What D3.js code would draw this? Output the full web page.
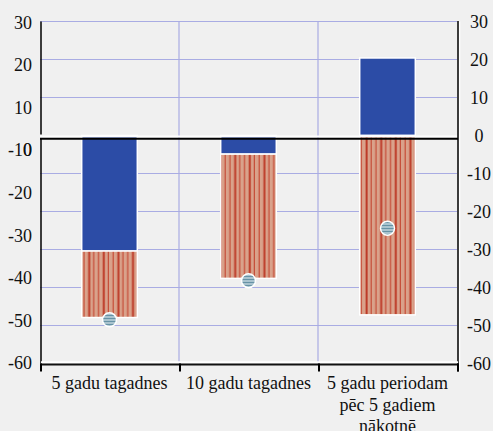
<!DOCTYPE html>
<html>
<head>
<meta charset="utf-8">
<script src="https://cdn.jsdelivr.net/npm/d3@7/dist/d3.min.js"></script>
<style>
  html, body { margin: 0; padding: 0; background: #f0f0f0; }
  svg { display: block; }
  text { font-family: "Liberation Serif", "Times New Roman", serif; fill: #111; }
</style>
</head>
<body>
<svg id="chart" width="493" height="431"></svg>
<script>
// ---- data ----
const categories = ["5 gadu tagadnes", "10 gadu tagadnes", "5 gadu periodam\npēc 5 gadiem\nnākotnē"];
const blueValues = [-30.4, -4.9, 20.4];
const redValues = [-17.5, -32.7, -47.2];
const markerValues = [-48.5, -38.2, -24.4];
const rightTicks = [30, 20, 10, 0, -10, -20, -30, -40, -50, -60];
const leftTicks = [30, 20, 10, 0, -10, -20, -30, -40, -50, -60];
const gridTicks = [30, 20, 10, -10, -20, -30, -40, -50];

const W = 493, H = 431;
const svg = d3.select("#chart");
const defs = svg.append("defs");

// hatch pattern for red series
const pr = defs.append("pattern").attr("id", "redHatch")
  .attr("patternUnits", "userSpaceOnUse").attr("width", 14.6).attr("height", 10);
pr.append("rect").attr("width", 14.6).attr("height", 10).attr("fill", "#d9a28b");
pr.append("rect").attr("x", 0.6).attr("width", 2).attr("height", 10).attr("fill", "#bd3a27");
pr.append("rect").attr("x", 5.6).attr("width", 1.1).attr("height", 10).attr("fill", "#c4432e");
pr.append("rect").attr("x", 10.4).attr("width", 1.1).attr("height", 10).attr("fill", "#c4432e");

// marker pattern
const pm = defs.append("pattern").attr("id", "markerHatch")
  .attr("patternUnits", "userSpaceOnUse").attr("width", 10).attr("height", 3);
pm.append("rect").attr("width", 10).attr("height", 3).attr("fill", "#a9c3ce");
pm.append("rect").attr("y", 0).attr("width", 10).attr("height", 0.9).attr("fill", "#5f8ea2");

// ---- scales ----
const x = d3.scaleBand().domain(categories).range([40, 457]).padding(0);
const y = d3.scaleLinear().domain([30, -60]).range([21.5, 363.5]);
const yLeft = d3.scaleLinear().domain([30, 0, -10, -60]).range([22.5, 150, 150, 363]);
const barW = x.bandwidth() * 0.4;

const gridColor = "#a9ace3";

// gridlines
svg.append("g").selectAll("line").data(gridTicks).join("line")
  .attr("x1", x.range()[0]).attr("x2", x.range()[1])
  .attr("y1", d => y(d)).attr("y2", d => y(d))
  .attr("stroke", gridColor).attr("stroke-width", 1.2);
svg.append("g").selectAll("line").data(categories.slice(1)).join("line")
  .attr("x1", d => x(d)).attr("x2", d => x(d))
  .attr("y1", y(30)).attr("y2", y(-60))
  .attr("stroke", gridColor).attr("stroke-width", 1.2);

// stacked bars
const table = categories.map((c, i) => ({ cat: c, blue: blueValues[i], red: redValues[i] }));
const stack = d3.stack().keys(["blue", "red"]).offset(d3.stackOffsetDiverging);
const series = stack(table);
const fills = { blue: "#2c4ca6", red: "url(#redHatch)" };

svg.append("g").selectAll("g").data(series).join("g")
  .attr("fill", d => fills[d.key])
  .selectAll("rect").data(d => d).join("rect")
  .attr("x", d => x(d.data.cat) + (x.bandwidth() - barW) / 2)
  .attr("width", barW)
  .attr("y", d => Math.min(y(d[0]), y(d[1])))
  .attr("height", d => Math.abs(y(d[0]) - y(d[1])))
  .attr("stroke", "#ffffff").attr("stroke-width", 1.5);

// zero line (white + black)
svg.append("line").attr("x1", x.range()[0]).attr("x2", x.range()[1] + 1)
  .attr("y1", y(0) + 1).attr("y2", y(0) + 1)
  .attr("stroke", "#ffffff").attr("stroke-width", 2.2);
svg.append("line").attr("x1", x.range()[0]).attr("x2", x.range()[1] + 1)
  .attr("y1", y(0) + 3.2).attr("y2", y(0) + 3.2)
  .attr("stroke", "#000").attr("stroke-width", 2);

// left axis line (broken around zero line)
svg.append("line").attr("x1", 41).attr("x2", 41)
  .attr("y1", y(30)).attr("y2", y(0) - 1)
  .attr("stroke", "#000").attr("stroke-width", 1.5);
svg.append("line").attr("x1", 41).attr("x2", 41)
  .attr("y1", y(0) + 3).attr("y2", y(-60))
  .attr("stroke", "#000").attr("stroke-width", 1.5);

// right axis line
svg.append("line").attr("x1", 459.5).attr("x2", 459.5)
  .attr("y1", y(30)).attr("y2", y(-60) + 8)
  .attr("stroke", "#ffffff").attr("stroke-width", 1.5);
svg.append("line").attr("x1", 458).attr("x2", 458)
  .attr("y1", y(30) - 0.5).attr("y2", y(-60) + 8)
  .attr("stroke", "#000").attr("stroke-width", 1.5);

// bottom axis
svg.append("line").attr("x1", 41).attr("x2", 458)
  .attr("y1", y(-60) - 1.2).attr("y2", y(-60) - 1.2)
  .attr("stroke", "#ffffff").attr("stroke-width", 2);
svg.append("line").attr("x1", 40).attr("x2", 459)
  .attr("y1", y(-60) + 1).attr("y2", y(-60) + 1)
  .attr("stroke", "#111").attr("stroke-width", 2);
const tickXs = categories.map(c => x(c)).concat([x.range()[1]]);
svg.append("g").selectAll("line").data(tickXs).join("line")
  .attr("x1", d => d + 1).attr("x2", d => d + 1)
  .attr("y1", y(-60)).attr("y2", y(-60) + 8)
  .attr("stroke", "#000").attr("stroke-width", 2);

// markers
svg.append("g").selectAll("circle").data(markerValues).join("circle")
  .attr("cx", (d, i) => x(categories[i]) + x.bandwidth() / 2)
  .attr("cy", d => y(d))
  .attr("r", 7)
  .attr("fill", "url(#markerHatch)")
  .attr("stroke", "#ffffff").attr("stroke-width", 1.5);

// right axis labels
svg.append("g").selectAll("text").data(rightTicks).join("text")
  .attr("x", 479).attr("y", d => y(d)).attr("dy", "0.35em")
  .attr("text-anchor", "middle").attr("font-size", 18)
  .text(d => d);

// left axis labels
svg.append("g").selectAll("text").data(leftTicks).join("text")
  .attr("x", 32).attr("y", d => yLeft(d)).attr("dy", "0.35em")
  .attr("text-anchor", "end").attr("font-size", 18)
  .text(d => d);

// category labels
const cl = svg.append("g").selectAll("text").data(categories).join("text")
  .attr("x", d => x(d) + x.bandwidth() / 2)
  .attr("y", 389)
  .attr("text-anchor", "middle").attr("font-size", 18);
cl.each(function(d) {
  const lines = d.split("\n");
  d3.select(this).selectAll("tspan").data(lines).join("tspan")
    .attr("x", x(d) + x.bandwidth() / 2)
    .attr("dy", (l, i) => i === 0 ? 0 : 21.5)
    .text(l => l);
});
</script>
</body>
</html>
